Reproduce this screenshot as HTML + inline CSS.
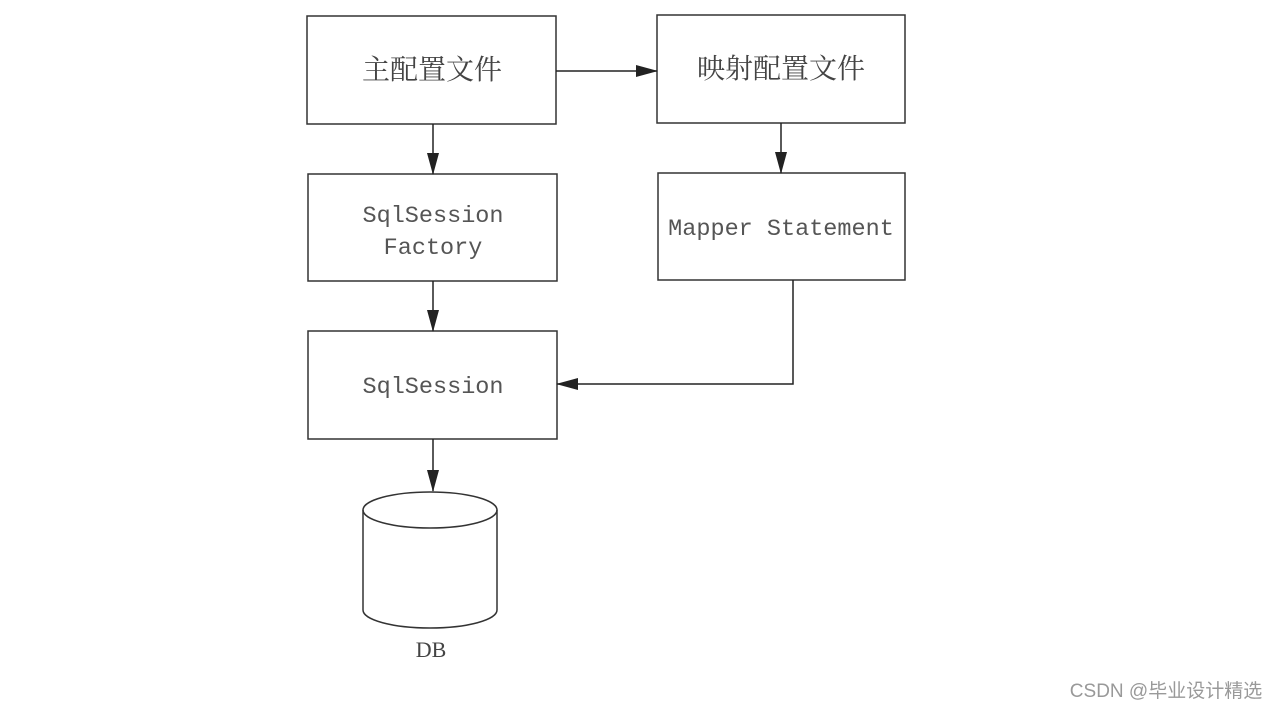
<!DOCTYPE html>
<html><head><meta charset="utf-8"><style>body{margin:0;background:#fff}</style></head><body>
<svg width="1276" height="708" xmlns="http://www.w3.org/2000/svg">
<defs>
<marker id="b" markerWidth="22" markerHeight="12" refX="21" refY="6" orient="auto" markerUnits="userSpaceOnUse"><path d="M0,0L22,6L0,12z" fill="#222"/></marker></defs>
<g fill="none" stroke="#333" stroke-width="1.5">
<rect x="307" y="16" width="249" height="108"/>
<rect x="657" y="15" width="248" height="108"/>
<rect x="308" y="174" width="249" height="107"/>
<rect x="658" y="173" width="247" height="107"/>
<rect x="308" y="331" width="249" height="108"/>
<path d="M363,510 L363,610 A67,18 0 0 0 497,610 L497,510"/>
<ellipse cx="430" cy="510" rx="67" ry="18"/>
</g>
<g stroke="#222" stroke-width="1.5" fill="none">
<line x1="556" y1="71" x2="657" y2="71" marker-end="url(#b)"/>
<line x1="433" y1="124" x2="433" y2="174" marker-end="url(#b)"/>
<line x1="781" y1="123" x2="781" y2="173" marker-end="url(#b)"/>
<line x1="433" y1="281" x2="433" y2="331" marker-end="url(#b)"/>
<polyline points="793,280 793,384 557,384" marker-end="url(#b)"/>
<line x1="433" y1="439" x2="433" y2="491" marker-end="url(#b)"/>
</g>
<g fill="#444" font-family="'Liberation Serif','Noto Serif CJK SC',serif" font-size="28" text-anchor="middle">
<text x="432" y="79">主配置文件</text>
<text x="781" y="78">映射配置文件</text>
</g>
<g fill="#555" font-family="'Liberation Mono',monospace" font-size="23.5" text-anchor="middle">
<text x="433" y="222">SqlSession</text>
<text x="433" y="254">Factory</text>
<text x="781" y="235">Mapper Statement</text>
<text x="433" y="393">SqlSession</text>
</g>
<text x="431" y="657" fill="#444" font-family="'Liberation Serif',serif" font-size="22" text-anchor="middle">DB</text>
<text x="1166" y="697" fill="#999" font-family="'Liberation Sans','Noto Sans CJK SC',sans-serif" font-size="19" text-anchor="middle">CSDN @毕业设计精选</text>
</svg>
</body></html>
